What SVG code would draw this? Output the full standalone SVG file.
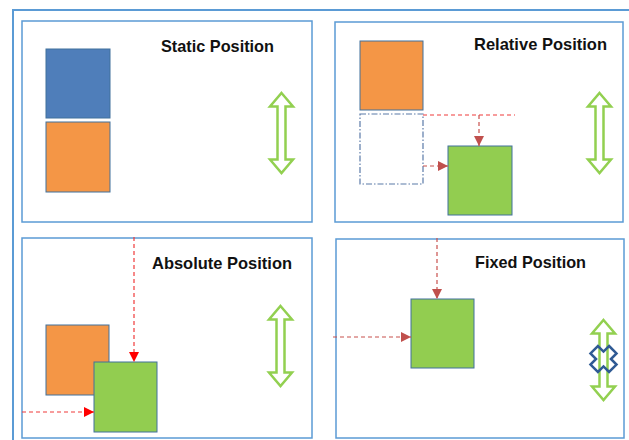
<svg xmlns="http://www.w3.org/2000/svg" xmlns:xlink="http://www.w3.org/1999/xlink" width="629" height="440" viewBox="0 0 629 440">
<style>
.frame{fill:none;stroke:#5B9BD5;stroke-width:2}
.panel{fill:#fff;stroke:#5B9BD5;stroke-width:1.5}
.blue{fill:#4F7EBA;stroke:#41719C;stroke-width:1}
.orange{fill:#F49646;stroke:#41719C;stroke-width:1}
.green{fill:#92CD50;stroke:#41719C;stroke-width:1}
.ghost{fill:none;stroke:#5A7AA8;stroke-width:1.2;stroke-dasharray:6,2,1.5,2}
.title{font-family:"Liberation Sans",Arial,sans-serif;font-weight:bold;font-size:17px;fill:#111}
.dd{fill:none;stroke:#C8504D;stroke-width:1.2;stroke-dasharray:4,3}
.dr{fill:none;stroke:#F03A3A;stroke-width:1.2;stroke-dasharray:4,3}
.arr{fill:#fff;stroke:#92D050;stroke-width:2.5;stroke-linejoin:miter}
.xmark{fill:none;stroke:#2F5A94;stroke-width:2.5;stroke-linejoin:miter}
</style>
<defs>
<marker id="ahd" markerWidth="10" markerHeight="10" refX="10" refY="5" viewBox="0 0 10 10" markerUnits="userSpaceOnUse" orient="auto"><path d="M0,0 L10,5 L0,10 z" fill="#C0504D"/></marker>
<marker id="ahr" markerWidth="10" markerHeight="10" refX="10" refY="5" viewBox="0 0 10 10" markerUnits="userSpaceOnUse" orient="auto"><path d="M0,0 L10,5 L0,10 z" fill="#FF0000"/></marker>
<path id="dbl" d="M0,0 L11.5,13.5 L4,13.5 L4,66.5 L11.5,66.5 L0,80 L-11.5,66.5 L-4,66.5 L-4,13.5 L-11.5,13.5 Z"/>
</defs>
<rect class="frame" x="13" y="10" width="640" height="450"/>

<g id="static">
<rect class="panel" x="22" y="21" width="290" height="201"/>
<rect class="blue" x="46" y="49" width="64" height="69"/>
<rect class="orange" x="46" y="122" width="64" height="70"/>
<text class="title" x="161" y="52" textLength="113" lengthAdjust="spacingAndGlyphs">Static Position</text>
<use xlink:href="#dbl" class="arr" x="281.5" y="93"/>
</g>

<g id="relative">
<rect class="panel" x="335" y="22" width="288" height="200"/>
<rect class="orange" x="360" y="41" width="63" height="69"/>
<rect class="ghost" x="360" y="114" width="63" height="70"/>
<rect class="green" x="448" y="146" width="64" height="69"/>
<text class="title" x="474" y="50" textLength="133" lengthAdjust="spacingAndGlyphs">Relative Position</text>
<use xlink:href="#dbl" class="arr" x="599.5" y="93"/>
</g>

<g id="absolute">
<rect class="panel" x="22" y="238" width="290" height="200"/>
<rect class="orange" x="46" y="325" width="63" height="70"/>
<rect class="green" x="94" y="362" width="63" height="70"/>
<text class="title" x="152" y="269" textLength="140" lengthAdjust="spacingAndGlyphs">Absolute Position</text>
<use xlink:href="#dbl" class="arr" x="280.5" y="306"/>
</g>

<g id="fixed">
<rect class="panel" x="336" y="239" width="288" height="199"/>
<rect class="green" x="411" y="299" width="63" height="69"/>
<text class="title" x="475" y="268" textLength="111" lengthAdjust="spacingAndGlyphs">Fixed Position</text>
<use xlink:href="#dbl" class="arr" x="603.5" y="320"/>
<polygon class="xmark" points="609.07,346 616.5,353.43 610.93,359 616.5,364.57 609.07,372 603.5,366.43 597.93,372 590.5,364.57 596.07,359 590.5,353.43 597.93,346 603.5,351.57"/>
</g>

<g id="connectors">
<line class="dr" x1="423" y1="115" x2="515" y2="115"/>
<line class="dd" x1="479" y1="115" x2="479" y2="146" marker-end="url(#ahd)"/>
<line class="dd" x1="423" y1="166" x2="448" y2="166" marker-end="url(#ahd)"/>
<line class="dr" x1="134" y1="237" x2="134" y2="362" marker-end="url(#ahr)"/>
<line class="dr" x1="22" y1="412" x2="94" y2="412" marker-end="url(#ahr)"/>
<line class="dd" x1="437" y1="238" x2="437" y2="299" marker-end="url(#ahd)"/>
<line class="dd" x1="333" y1="337" x2="411" y2="337" marker-end="url(#ahd)"/>
</g>
</svg>
